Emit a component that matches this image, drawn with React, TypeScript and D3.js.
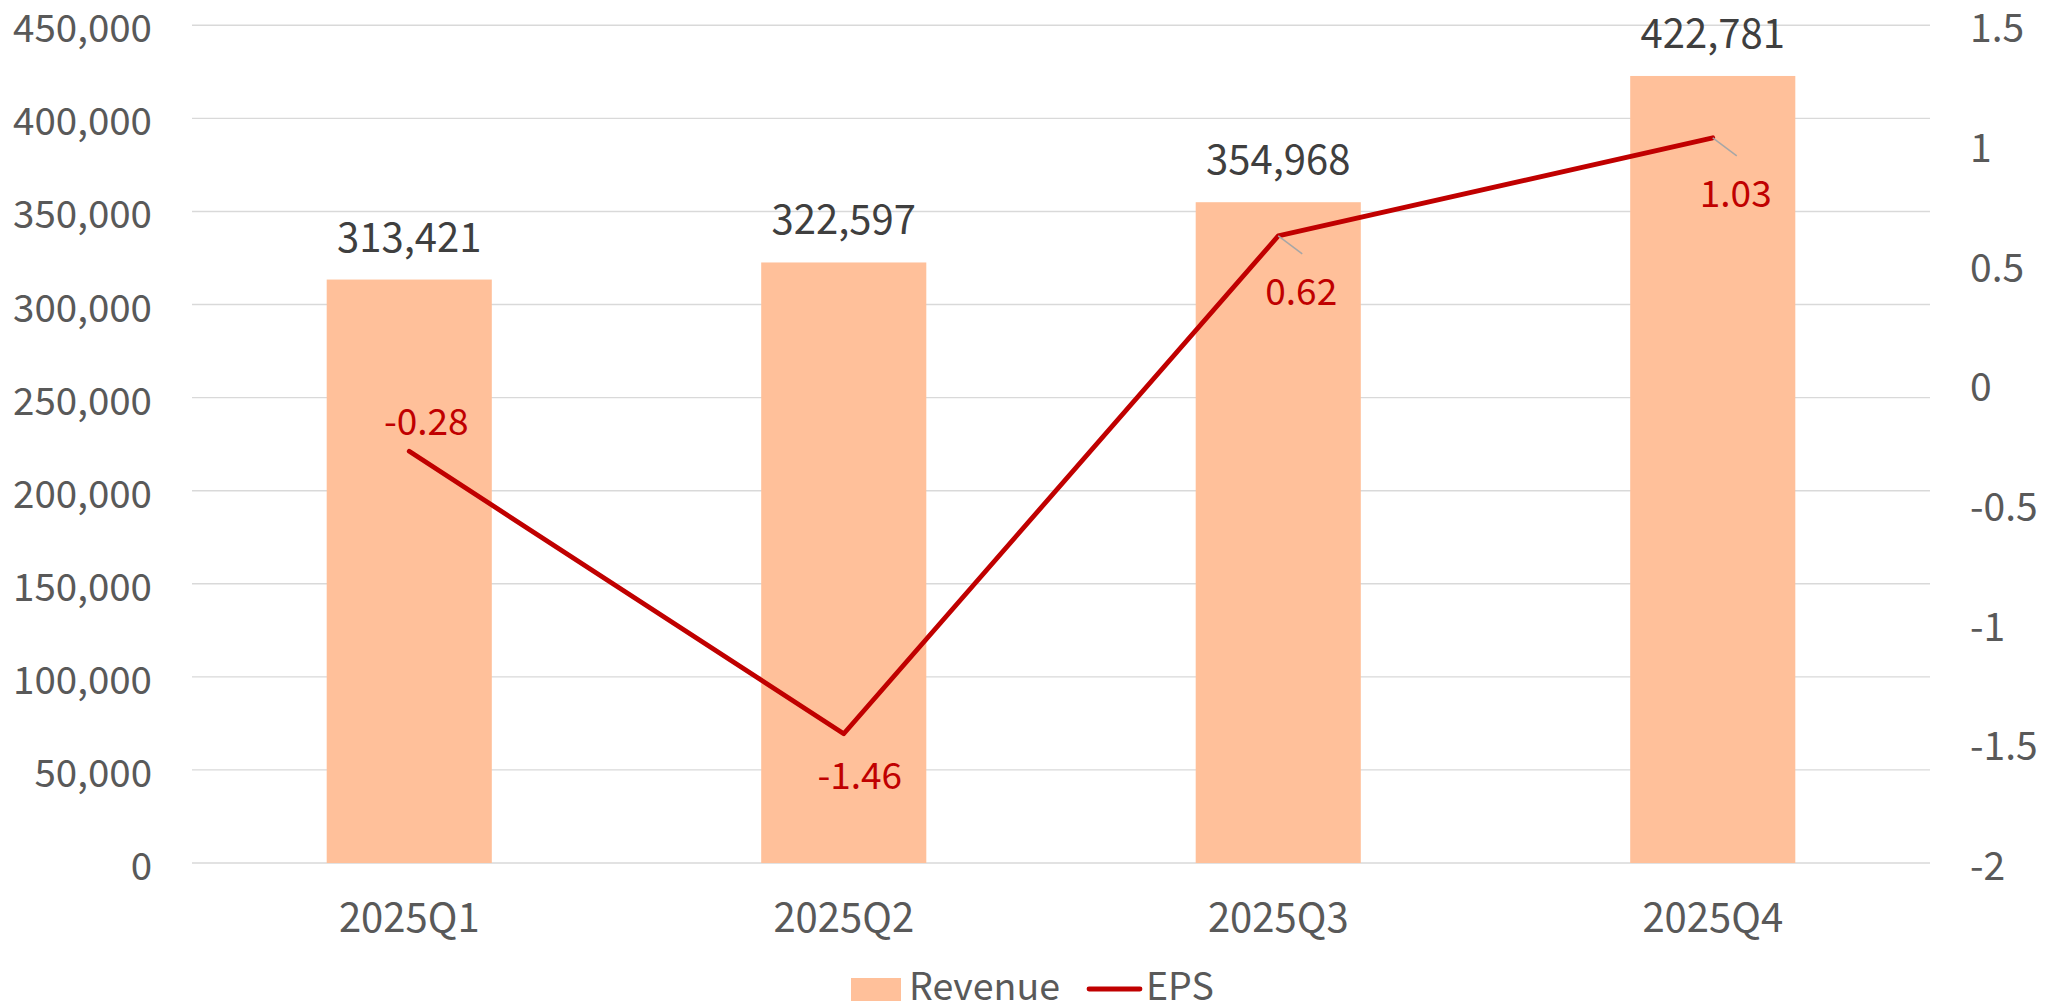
import React from "react";
import * as d3 from "d3";

const categories = ["2025Q1", "2025Q2", "2025Q3", "2025Q4"];
const revenue = [313421, 322597, 354968, 422781];
const eps = [-0.28, -1.46, 0.62, 1.03];
const leftTicks = [0, 50000, 100000, 150000, 200000, 250000, 300000, 350000, 400000, 450000];
const rightTicks = [-2, -1.5, -1, -0.5, 0, 0.5, 1, 1.5];
const epsLabelPlacement = ["above", "below", "belowRight", "belowRight"];

const W = 2056;
const H = 1007;
const FONT = "'Noto Sans CJK TC', 'Noto Sans', sans-serif";
const BAR = "#FFC09A";
const RED = "#C00000";

export default function App() {
  const x = d3
    .scaleBand<string>()
    .domain(categories)
    .range([192, 1930])
    .paddingInner(0.62)
    .paddingOuter(0.31);
  const yL = d3.scaleLinear().domain([0, 450000]).range([863, 25.3]);
  const yR = d3.scaleLinear().domain([-2, 1.5]).range([863, 25.3]);
  const cx = (c: string) => (x(c) as number) + x.bandwidth() / 2;
  const fmt = d3.format(",");
  const line = d3
    .line<number>()
    .x((_, i) => cx(categories[i]))
    .y((d) => yR(d));

  return (
    <svg
      width={W}
      height={H}
      style={{ position: "absolute", left: 0, top: 0, background: "#fff" }}
      fontFamily={FONT}
    >
      <g>
        {leftTicks.map((t) => (
          <line
            key={"g" + t}
            x1={192}
            x2={1930}
            y1={yL(t)}
            y2={yL(t)}
            stroke="#D9D9D9"
            strokeWidth={1.4}
          />
        ))}
      </g>
      <g>
        {leftTicks.map((t) => (
          <text
            key={"l" + t}
            x={152}
            y={yL(t)}
            textAnchor="end"
            dominantBaseline="central"
            fontSize={38.5}
            fill="#595959"
          >
            {fmt(t)}
          </text>
        ))}
      </g>
      <g>
        {rightTicks.map((t) => (
          <text
            key={"r" + t}
            x={1970}
            y={yR(t)}
            textAnchor="start"
            dominantBaseline="central"
            fontSize={39}
            fill="#595959"
          >
            {String(t)}
          </text>
        ))}
      </g>
      <g>
        {categories.map((c, i) => (
          <rect
            key={"b" + c}
            x={x(c)}
            y={yL(revenue[i])}
            width={x.bandwidth()}
            height={yL(0) - yL(revenue[i])}
            fill={BAR}
          />
        ))}
      </g>
      <g>
        {categories.map((c, i) => (
          <text
            key={"v" + c}
            x={cx(c)}
            y={yL(revenue[i]) - 28}
            textAnchor="middle"
            fontSize={40}
            fill="#3F3F3F"
          >
            {fmt(revenue[i])}
          </text>
        ))}
      </g>
      <path d={line(eps) || ""} fill="none" stroke={RED} strokeWidth={4.8} strokeLinejoin="round" strokeLinecap="round" />
      <g>
        {categories.map((c, i) => {
          const px = cx(c);
          const py = yR(eps[i]);
          const p = epsLabelPlacement[i];
          let tx = px + 17;
          let ty = py - 16;
          let leader: React.ReactNode = null;
          if (p === "below") {
            tx = px + 16;
            ty = py + 55;
          } else if (p === "belowRight") {
            tx = px + 23;
            ty = py + 69;
            leader = (
              <line x1={px} y1={py} x2={px + 24} y2={py + 18} stroke="#A6A6A6" strokeWidth={1.5} />
            );
          }
          return (
            <g key={"e" + c}>
              {leader}
              <text x={tx} y={ty} textAnchor="middle" fontSize={37} fill={RED}>
                {eps[i].toFixed(2)}
              </text>
            </g>
          );
        })}
      </g>
      <g>
        {categories.map((c) => (
          <text
            key={"c" + c}
            x={cx(c)}
            y={932}
            textAnchor="middle"
            fontSize={40}
            fill="#595959"
          >
            {c}
          </text>
        ))}
      </g>
      <g>
        <rect x={851} y={978} width={50} height={23} fill={BAR} />
        <text x={909} y={1000} fontSize={37.5} fill="#595959">
          Revenue
        </text>
        <line x1={1089} x2={1140} y1={989} y2={989} stroke={RED} strokeWidth={4.8} strokeLinecap="round" />
        <text x={1146} y={1000} fontSize={37.5} fill="#595959">
          EPS
        </text>
      </g>
    </svg>
  );
}
